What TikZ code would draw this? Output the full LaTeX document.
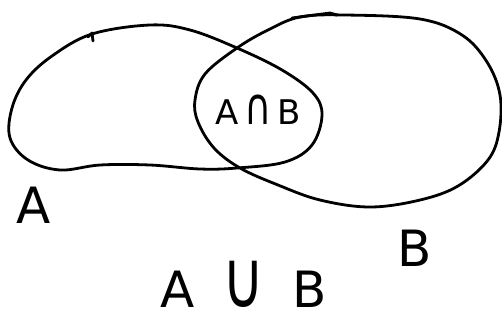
\documentclass[tikz,border=0pt]{standalone}
\usepackage{fontspec}
\setmainfont{DejaVu Sans}
\begin{document}
\begin{tikzpicture}[x=1pt,y=-1pt,
  stroke/.style={line width=2.8pt,line cap=round,line join=round},
  lbl/.style={inner sep=0pt,font=\fontsize{#1}{#1}\selectfont}]
\useasboundingbox (0,0) rectangle (502,322);
% set A
\draw[stroke] plot[smooth cycle,tension=0.6] coordinates{
 (92,34) (150,25) (190,30) (237,48) (282,70) (313,93) (322,115) (312,145)
 (285,162) (237,168) (200,169) (150,165) (100,165) (60,170) (28,160) (10,138)
 (12,108) (26,80) (52,56)};
\draw[stroke] (88,37) -- (92,33) -- (93,41);
% set B
\draw[stroke] plot[smooth cycle,tension=0.6] coordinates{
 (300,17) (345,15) (420,19) (462,35) (487,62) (500,95) (499,132) (488,160)
 (458,186) (420,200) (370,207) (320,200) (278,185) (240,168) (214,148)
 (198,122) (195,100) (205,74) (237,48) (268,30)};
\draw[stroke] (292,18) -- (330,13) -- (337,15);
% labels
\node[lbl=34] (ab) at (258,110) {A\,\scalebox{1.1}[1.5]{∩}\,B};
\node[lbl=50] (la) at (34,205) {A};
\node[lbl=50] (lb) at (415,248) {B};
\node[lbl=50] (u) at (244,289) {A\;\;\smash{\scalebox{1.15}[1.6]{∪}}\;\;B};
\end{tikzpicture}
\end{document}
